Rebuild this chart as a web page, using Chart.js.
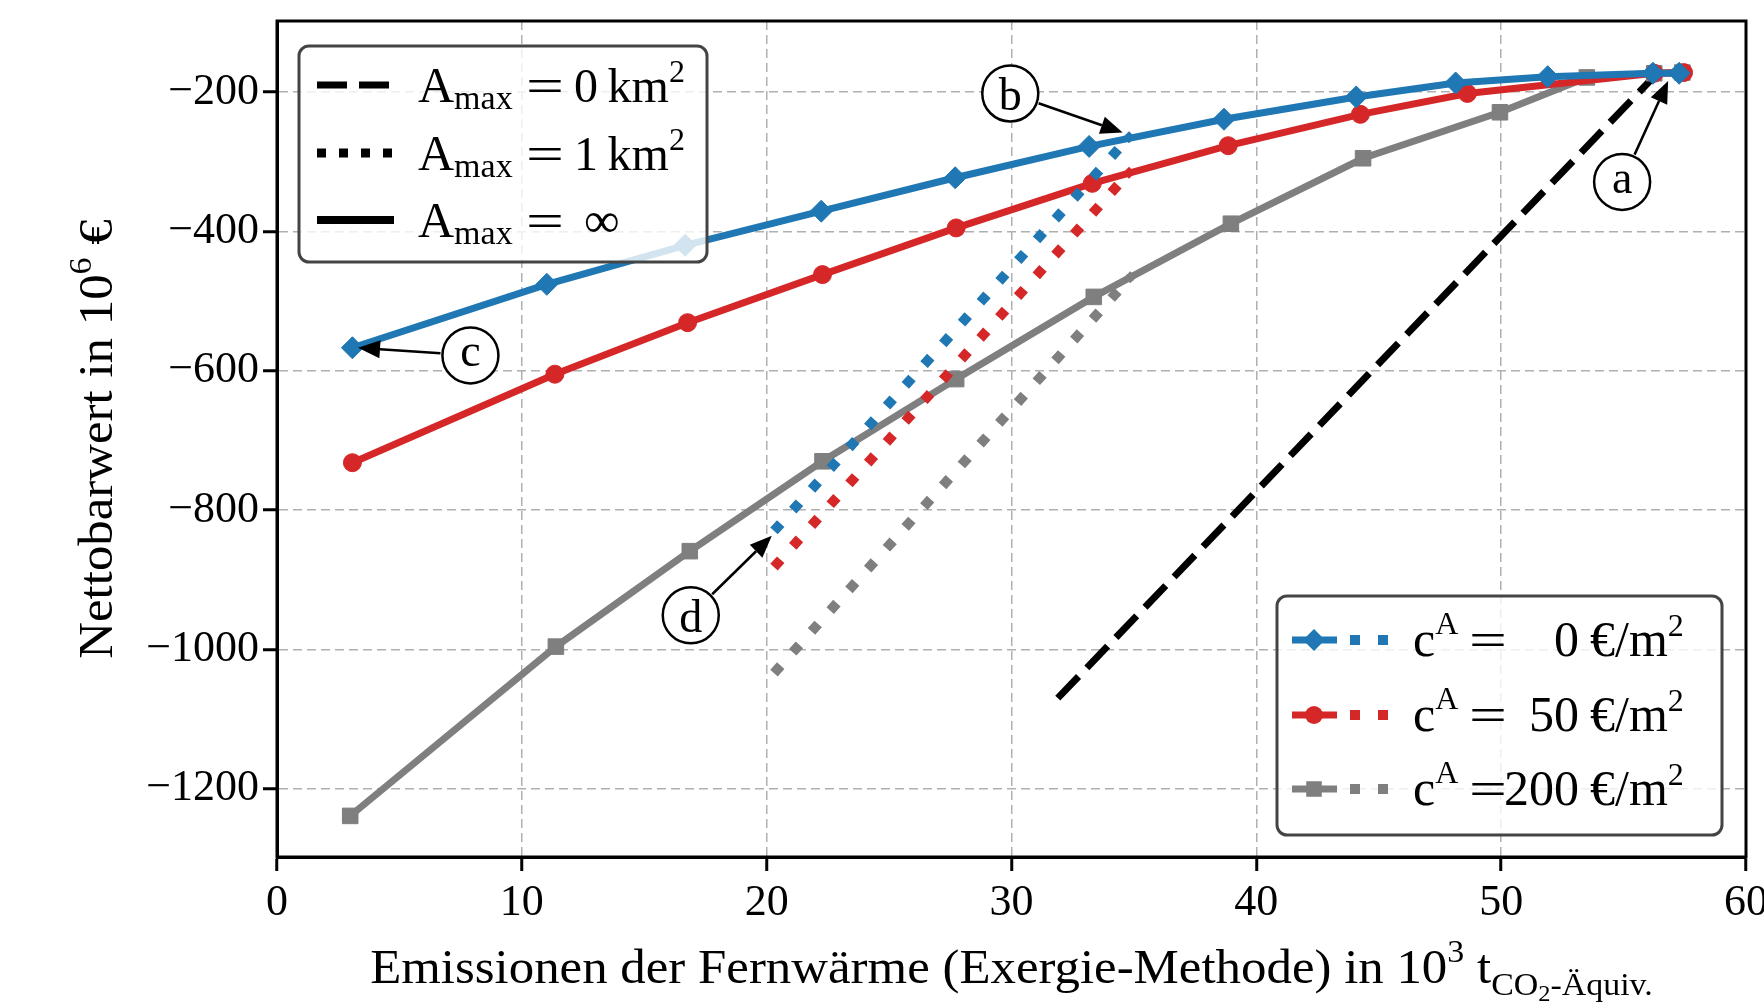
<!DOCTYPE html>
<html>
<head>
<meta charset="utf-8">
<script src="https://cdn.jsdelivr.net/npm/chart.js@4.4.1/dist/chart.umd.min.js"></script>
<style>
  html, body { margin: 0; padding: 0; background: #fff; }
  #wrap { position: relative; width: 1764px; height: 1006px; }
</style>
</head>
<body>
<div id="wrap"><canvas id="chart"></canvas></div>
<script>
// x: Emissionen in 10^3 t CO2-Äquiv., y: Nettobarwert in 10^6 €

// Amax = ∞ (solid lines with markers)
const blueSolidX = [3.08, 11.02, 16.67, 22.23, 27.70, 33.17, 38.68, 44.08, 48.14, 51.90, 56.20, 57.27];
const blueSolidY = [-567, -476, -420, -371, -323, -278, -239, -207, -187, -178, -173, -173];
const redSolidX = [3.08, 11.35, 16.77, 22.28, 27.74, 33.30, 38.85, 44.25, 48.62, 56.25, 57.45];
const redSolidY = [-732, -605, -531, -462, -395, -331, -277, -232, -202, -173, -172];
const graySolidX = [2.99, 11.39, 16.86, 22.28, 27.74, 33.36, 38.96, 44.36, 49.95, 53.50, 56.25, 57.40];
const graySolidY = [-1239, -996, -859, -730, -612, -494, -389, -295, -229, -179, -173, -172];

// Amax = 1 km² (dotted)
const blueDotX = [20.3, 34.8];
const blueDotY = [-830, -265];
const redDotX = [20.3, 34.8];
const redDotY = [-882, -316];
const grayDotX = [20.3, 34.85];
const grayDotY = [-1034, -466];

// Amax = 0 km² (dashed, independent of c^A)
const zeroX = [31.89, 56.4];
const zeroY = [-1070, -172];

const xTicks = [0, 10, 20, 30, 40, 50, 60];
const yTicks = [-1200, -1000, -800, -600, -400, -200];
const costLabels = ['0', '50', '200'];

// circled labels: circle centre and arrow tip in data units
const notes = [
  {label: 'a', cx: 54.94, cy: -329, tx: 56.82, ty: -184},
  {label: 'b', cx: 29.95, cy: -202, tx: 34.54, ty: -258},
  {label: 'c', cx: 7.90, cy: -578, tx: 3.31, ty: -567},
  {label: 'd', cx: 16.90, cy: -951, tx: 20.21, ty: -837}
];

const SERIF = '"Liberation Serif", "Times New Roman", serif';
const BLUE = '#1f77b4', RED = '#d62728', GRAY = '#7f7f7f';
const DOT = [10, 18], DASH = [30, 12];
const STRETCH = 1.06;

const pts = (xs, ys) => xs.map((x, i) => ({x: x, y: ys[i]}));
const minus = v => (v < 0 ? '\u2212' + Math.abs(v) : String(v));

function solid(data, color, style, radius) {
  return {
    data: data, borderColor: color, backgroundColor: color, borderWidth: 7,
    pointStyle: style, pointRadius: radius, pointBackgroundColor: color,
    pointBorderColor: color, pointBorderWidth: 1
  };
}
function dotted(data, color) {
  return {
    data: data, borderColor: color, backgroundColor: color, borderWidth: 10,
    borderDash: DOT, borderCapStyle: 'butt', pointStyle: 'rectRot',
    pointRadius: [0, 6], pointBorderWidth: 0, pointBackgroundColor: color
  };
}

function font(size) { return size + 'px ' + SERIF; }

// pieces: {t, s (size), dy}
function richWidth(ctx, parts) {
  let w = 0;
  for (const p of parts) { ctx.font = font(p.s); w += ctx.measureText(p.t).width; }
  return w;
}
function drawRich(ctx, parts, x, y) {
  for (const p of parts) {
    ctx.font = font(p.s);
    ctx.fillText(p.t, x, y + (p.dy || 0));
    x += ctx.measureText(p.t).width;
  }
  return x;
}
// wide "=" like the TeX one
function drawEq(ctx, cx, y) {
  ctx.save();
  ctx.font = font(48);
  ctx.textAlign = 'center';
  ctx.translate(cx, y);
  ctx.scale(1.4, 1);
  ctx.fillText('=', 0, 0);
  ctx.restore();
}

function legendBox(ctx, x, y, w, h) {
  ctx.save();
  ctx.beginPath();
  ctx.roundRect(x, y, w, h, 10);
  ctx.fillStyle = 'rgba(255,255,255,0.8)';
  ctx.fill();
  ctx.strokeStyle = '#444';
  ctx.lineWidth = 3;
  ctx.stroke();
  ctx.restore();
}

function sampleLine(ctx, x1, x2, y, color, width, dash) {
  ctx.save();
  ctx.strokeStyle = color;
  ctx.lineWidth = width;
  ctx.lineCap = 'butt';
  ctx.setLineDash(dash);
  ctx.beginPath();
  ctx.moveTo(x1, y);
  ctx.lineTo(x2, y);
  ctx.stroke();
  ctx.restore();
}

function marker(ctx, style, x, y, r, color) {
  ctx.save();
  ctx.fillStyle = color;
  ctx.beginPath();
  if (style === 'circle') ctx.arc(x, y, r, 0, Math.PI * 2);
  else if (style === 'rect') { const s = r * Math.SQRT1_2; ctx.rect(x - s, y - s, 2 * s, 2 * s); }
  else { ctx.moveTo(x, y - r); ctx.lineTo(x + r, y); ctx.lineTo(x, y + r); ctx.lineTo(x - r, y); ctx.closePath(); }
  ctx.fill();
  ctx.restore();
}

const overlay = {
  id: 'overlay',
  afterDraw(chart) {
    const ctx = chart.ctx, a = chart.chartArea;
    const sx = chart.scales.x, sy = chart.scales.y;

    // frame
    ctx.save();
    ctx.strokeStyle = '#000';
    ctx.lineWidth = 3;
    ctx.strokeRect(a.left, a.top, a.right - a.left, a.bottom - a.top);
    ctx.restore();

    // annotations
    ctx.save();
    const R = 28;
    for (const n of notes) {
      const cx = sx.getPixelForValue(n.cx), cy = sy.getPixelForValue(n.cy);
      const tx = sx.getPixelForValue(n.tx), ty = sy.getPixelForValue(n.ty);
      const d = Math.hypot(tx - cx, ty - cy), ux = (tx - cx) / d, uy = (ty - cy) / d;
      const hl = 22, hw = 9;
      const bx = tx - ux * hl, by = ty - uy * hl;
      ctx.strokeStyle = '#000';
      ctx.fillStyle = '#000';
      ctx.lineWidth = 2.5;
      ctx.beginPath();
      ctx.moveTo(cx + ux * (R + 2), cy + uy * (R + 2));
      ctx.lineTo(bx, by);
      ctx.stroke();
      ctx.beginPath();
      ctx.moveTo(tx, ty);
      ctx.lineTo(bx - uy * hw, by + ux * hw);
      ctx.lineTo(bx + uy * hw, by - ux * hw);
      ctx.closePath();
      ctx.fill();
      ctx.beginPath();
      ctx.arc(cx, cy, R, 0, Math.PI * 2);
      ctx.fillStyle = '#fff';
      ctx.fill();
      ctx.stroke();
      ctx.fillStyle = '#000';
      ctx.font = font(46);
      ctx.textAlign = 'center';
      ctx.textBaseline = 'alphabetic';
      const m = ctx.measureText(n.label);
      ctx.fillText(n.label, cx, cy + (m.actualBoundingBoxAscent - m.actualBoundingBoxDescent) / 2);
    }
    ctx.restore();

    // axis titles
    ctx.save();
    ctx.fillStyle = '#000';
    ctx.textBaseline = 'alphabetic';
    ctx.textAlign = 'left';
    const xt = [
      {t: 'Emissionen der Fernwärme (Exergie-Methode) in 10', s: 48},
      {t: '3', s: 32, dy: -21},
      {t: ' t', s: 48},
      {t: 'CO', s: 32, dy: 12},
      {t: '2', s: 23, dy: 18},
      {t: '-Äquiv.', s: 32, dy: 12}
    ];
    ctx.save();
    ctx.translate((a.left + a.right) / 2, 983);
    ctx.scale(STRETCH, 1);
    drawRich(ctx, xt, -richWidth(ctx, xt) / 2, 0);
    ctx.restore();
    const yt = [
      {t: 'Nettobarwert in 10', s: 48},
      {t: '6', s: 32, dy: -21},
      {t: ' €', s: 48}
    ];
    ctx.translate(112, (a.top + a.bottom) / 2);
    ctx.rotate(-Math.PI / 2);
    ctx.scale(STRETCH, 1);
    drawRich(ctx, yt, -richWidth(ctx, yt) / 2, 0);
    ctx.restore();

    // legend: Amax
    ctx.save();
    legendBox(ctx, 299, 46, 408, 216);
    ctx.fillStyle = '#000';
    ctx.textBaseline = 'alphabetic';
    const rows1 = [
      {y: 85, dash: DASH, w: 7, val: [{t: '0', s: 48}, {t: '\u2009km', s: 48}, {t: '2', s: 32, dy: -20}], vx: 574},
      {y: 153, dash: [9, 13], w: 9, val: [{t: '1', s: 48}, {t: '\u2009km', s: 48}, {t: '2', s: 32, dy: -20}], vx: 574},
      {y: 220, dash: [], w: 8, val: [{t: '\u221E', s: 50}], vx: 584}
    ];
    for (const r of rows1) {
      sampleLine(ctx, 317, 394, r.y, '#000', r.w, r.dash);
      const by = r.y + 17;
      drawRich(ctx, [{t: 'A', s: 50}, {t: 'max', s: 34, dy: 7}], 418, by);
      drawEq(ctx, 545, by);
      drawRich(ctx, r.val, r.vx, by);
    }
    ctx.restore();

    // legend: c^A
    ctx.save();
    legendBox(ctx, 1277, 596, 445, 239);
    ctx.fillStyle = '#000';
    ctx.textBaseline = 'alphabetic';
    const rows2 = [
      {y: 640, color: BLUE, style: 'rectRot', r: 11},
      {y: 715, color: RED, style: 'circle', r: 9},
      {y: 789, color: GRAY, style: 'rect', r: 11}
    ];
    rows2.forEach((r, i) => {
      sampleLine(ctx, 1292, 1337, r.y, r.color, 7, []);
      marker(ctx, r.style, 1314, r.y, r.r, r.color);
      sampleLine(ctx, 1350, 1390, r.y, r.color, 10, DOT);
      const by = r.y + 16;
      ctx.fillStyle = '#000';
      drawRich(ctx, [{t: 'c', s: 50}, {t: 'A', s: 32, dy: -22}], 1413, by);
      drawEq(ctx, 1488, by);
      ctx.font = font(50);
      ctx.textAlign = 'right';
      ctx.fillText(costLabels[i], 1579, by);
      ctx.textAlign = 'left';
      drawRich(ctx, [{t: '\u2009€', s: 50}, {t: '/m', s: 50}, {t: '2', s: 32, dy: -20}], 1580, by);
    });
    ctx.restore();
  }
};

new Chart(document.getElementById('chart'), {
  type: 'line',
  data: {
    datasets: [
      solid(pts(blueSolidX, blueSolidY), BLUE, 'rectRot', 11),
      dotted(pts(blueDotX, blueDotY), BLUE),
      solid(pts(redSolidX, redSolidY), RED, 'circle', 9),
      dotted(pts(redDotX, redDotY), RED),
      solid(pts(graySolidX, graySolidY), GRAY, 'rect', 11),
      dotted(pts(grayDotX, grayDotY), GRAY),
      {
        data: pts(zeroX, zeroY), borderColor: '#000', borderWidth: 7,
        borderDash: DASH, borderCapStyle: 'butt', pointRadius: 0
      }
    ]
  },
  options: {
    responsive: true,
    maintainAspectRatio: false,
    animation: false,
    events: [],
    layout: {padding: {top: 21, right: 18, left: 0, bottom: 0}},
    plugins: {legend: {display: false}, tooltip: {enabled: false}},
    scales: {
      x: {
        type: 'linear', min: 0, max: 60,
        afterBuildTicks: s => { s.ticks = xTicks.map(v => ({value: v})); },
        afterFit: s => { s.height = 149; s.paddingLeft = 0; s.paddingRight = 0; },
        grid: {color: '#b0b0b0', lineWidth: 1.5, tickColor: '#000', tickWidth: 3, tickLength: 14},
        border: {color: '#000', width: 3, dash: [9, 5]},
        ticks: {color: '#000', font: {family: SERIF, size: 44}, padding: 6, maxRotation: 0, autoSkip: false, callback: v => minus(v)}
      },
      y: {
        type: 'linear', min: -1298, max: -98,
        afterBuildTicks: s => { s.ticks = yTicks.map(v => ({value: v})); },
        afterFit: s => { s.width = 277; s.paddingTop = 0; s.paddingBottom = 0; },
        grid: {color: '#b0b0b0', lineWidth: 1.5, tickColor: '#000', tickWidth: 3, tickLength: 14},
        border: {color: '#000', width: 3, dash: [9, 5]},
        ticks: {color: '#000', font: {family: SERIF, size: 44}, padding: 4, autoSkip: false, callback: v => minus(v)}
      }
    }
  },
  plugins: [overlay]
});
</script>
</body>
</html>
